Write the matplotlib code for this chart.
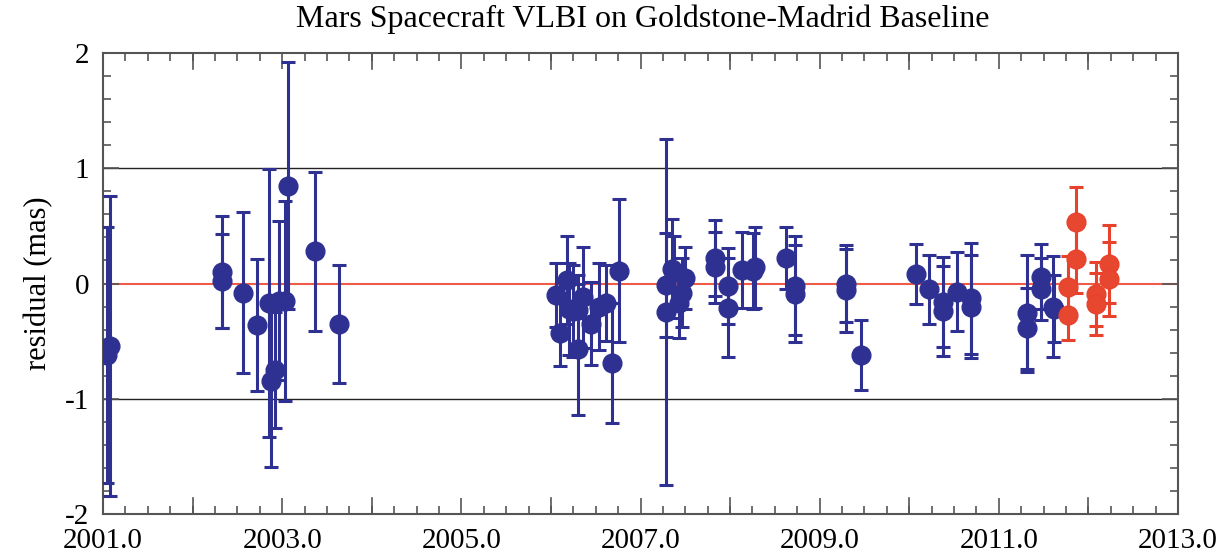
import matplotlib
matplotlib.use("Agg")
import matplotlib.pyplot as plt
from matplotlib.ticker import MultipleLocator, FixedLocator

plt.rcParams['font.family'] = ['Liberation Serif', 'DejaVu Serif']

title = "Mars Spacecraft VLBI on Goldstone-Madrid Baseline"
ylabel = "residual (mas)"

blue_year = [2001.08, 2001.04, 2002.33, 2002.33, 2002.56, 2002.72, 2002.85, 2002.875,
             2002.92, 2002.96, 2003.03, 2003.06, 2003.37, 2003.63,
             2006.06, 2006.10, 2006.18, 2006.20, 2006.25, 2006.30, 2006.30, 2006.36,
             2006.45, 2006.54, 2006.61, 2006.68, 2006.76,
             2007.28, 2007.29, 2007.35, 2007.37, 2007.43, 2007.46, 2007.50,
             2007.83, 2007.83, 2007.98, 2007.98, 2008.13, 2008.28, 2008.26,
             2008.62, 2008.73, 2008.73,
             2009.29, 2009.29, 2009.46, 2010.07, 2010.22, 2010.38, 2010.38,
             2010.53, 2010.69, 2010.69,
             2011.32, 2011.32, 2011.47, 2011.47, 2011.60, 2011.62]
blue_res = [-0.54, -0.62, 0.10, 0.02, -0.08, -0.36, -0.17, -0.85,
            -0.75, -0.15, -0.15, 0.85, 0.28, -0.35,
            -0.10, -0.43, 0.03, -0.22, -0.24, -0.23, -0.57, -0.12,
            -0.35, -0.20, -0.17, -0.69, 0.11,
            -0.25, -0.01, 0.13, 0.10, -0.17, -0.08, 0.05,
            0.22, 0.14, -0.02, -0.21, 0.12, 0.14, 0.11,
            0.22, -0.02, -0.09,
            0.00, -0.06, -0.62, 0.08, -0.05, -0.16, -0.24,
            -0.07, -0.13, -0.20,
            -0.26, -0.39, 0.06, -0.05, -0.20, -0.22]
blue_err = [1.30, 1.11, 0.49, 0.41, 0.70, 0.57, 1.16, 0.74,
            0.50, 0.69, 0.87, 1.07, 0.69, 0.51,
            0.28, 0.29, 0.38, 0.40, 0.40, 0.30, 0.57, 0.44,
            0.36, 0.38, 0.33, 0.52, 0.62,
            1.50, 0.45, 0.43, 0.31, 0.30, 0.30, 0.27,
            0.33, 0.31, 0.33, 0.43, 0.33, 0.35, 0.33,
            0.27, 0.43, 0.42,
            0.33, 0.36, 0.30, 0.26, 0.30, 0.39, 0.39,
            0.34, 0.48, 0.45,
            0.51, 0.35, 0.28, 0.27, 0.44, 0.29]

red_year = [2011.77, 2011.77, 2011.86, 2011.86, 2012.08, 2012.08, 2012.23, 2012.23]
red_res = [-0.03, -0.27, 0.53, 0.21, -0.09, -0.18, 0.17, 0.04]
red_err = [0.27, 0.22, 0.31, 0.29, 0.28, 0.27, 0.34, 0.32]

x_ticks = [2001.0, 2003.0, 2005.0, 2007.0, 2009.0, 2011.0, 2013.0]
x_labels = ["2001.0", "2003.0", "2005.0", "2007.0", "2009.0", "2011.0", "2013.0"]
y_ticks = [-2, -1, 0, 1, 2]
y_labels = ["-2", "-1", "0", "1", "2"]

W, H = 1232, 556
fig = plt.figure(figsize=(W / 100, H / 100), dpi=100)
ax = fig.add_axes([103 / W, 1 - 514 / H, 1075 / W, 461 / H])

blue = "#2E3192"
red = "#E8412C"

ax.axhline(1, color="#222222", lw=1.0, zorder=1)
ax.axhline(-1, color="#222222", lw=1.0, zorder=1)
ax.axhline(0, color="#EE5B47", lw=1.5, zorder=1)

ax.errorbar(blue_year, blue_res, yerr=blue_err, fmt="o", color=blue, ms=13.5,
            elinewidth=2.2, capsize=5, capthick=2.2, zorder=3)
ax.errorbar(red_year, red_res, yerr=red_err, fmt="o", color=red, ms=13.5,
            mfc="#E8472F", mec=red,
            elinewidth=2.2, capsize=5, capthick=2.2, zorder=4)

ax.set_xlim(2001, 2013)
ax.set_ylim(-2, 2)
ax.xaxis.set_major_locator(FixedLocator(x_ticks))
ax.set_xticklabels(x_labels)
ax.xaxis.set_minor_locator(MultipleLocator(0.25))
ax.yaxis.set_major_locator(FixedLocator(y_ticks))
ax.set_yticklabels(y_labels)
ax.yaxis.set_minor_locator(MultipleLocator(0.2))

# year ticks between labelled ones drawn as longer marks
for yr in range(2002, 2013, 2):
    ax.axvline(yr, ymin=0, ymax=16 / 461, color="#555555", lw=1.2, zorder=2)
    ax.axvline(yr, ymin=1 - 16 / 461, ymax=1, color="#555555", lw=1.2, zorder=2)

ax.tick_params(which="both", direction="in", top=True, right=True,
               color="#555555", width=1.2)
ax.tick_params(which="major", length=11.5, labelsize=21)
ax.tick_params(axis="x", which="major", pad=10)
ax.tick_params(axis="y", which="major", pad=10)
ax.tick_params(which="minor", length=5.8)
for s in ax.spines.values():
    s.set_color("#555555")
    s.set_linewidth(1.5)

fig.text(643 / W, 1 - 19 / H, title, fontsize=23, ha="center", va="center")
ax.set_ylabel(ylabel, fontsize=22, labelpad=8)

fig.savefig("out.png", dpi=100)
